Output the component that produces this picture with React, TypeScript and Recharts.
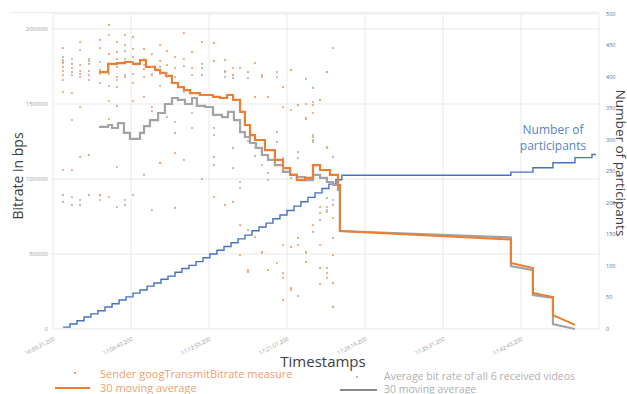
import React from 'react'
import { ComposedChart, Line, Scatter, XAxis, YAxis, CartesianGrid } from 'recharts'

// x values are seconds after 16:59:31.200
const TIME_TICKS = [0, 432, 864, 1296, 1728, 2160, 2592, 3024]
const TIME_LABELS = ['16:59:31.200', '17:06:43.200', '17:13:55.200', '17:21:07.200', '17:28:19.200', '17:35:31.200', '17:42:43.200', '']
const BITRATE_TICKS = [0, 500000, 1000000, 1500000, 2000000]
const PARTICIPANT_TICKS = [0, 50, 100, 150, 200, 250, 300, 350, 400, 450, 500]

type Pair = [number, number]
type Column = [number, number[]]

// [seconds, participants]
const participantSteps: Pair[] = [
  [55, 3], [94, 8], [133, 13], [172, 19], [210, 24], [249, 29], [288, 35], [327, 40],
  [366, 46], [404, 51], [443, 57], [482, 62], [521, 68], [559, 73], [598, 79], [637, 84],
  [676, 90], [714, 96], [753, 101], [792, 107], [831, 113], [869, 119], [908, 125], [947, 131],
  [986, 137], [1025, 143], [1063, 149], [1102, 156], [1141, 162], [1180, 168], [1218, 175],
  [1257, 181], [1296, 188], [1335, 195], [1373, 202], [1412, 209], [1451, 216], [1490, 223],
  [1528, 230], [1567, 237], [1600, 244], [2536, 249], [2658, 256], [2769, 264], [2891, 272],
  [2985, 277], [3007, 277],
]

// [seconds, kbps] moving averages, stepped part
const senderAvgSteps: Pair[] = [
  [255, 1713], [305, 1767], [354, 1773], [399, 1780], [443, 1767], [482, 1793], [515, 1747],
  [565, 1727], [593, 1707], [626, 1687], [659, 1640], [692, 1613], [725, 1593], [759, 1573],
  [814, 1560], [886, 1547], [925, 1540], [964, 1560], [997, 1527], [1036, 1447], [1063, 1360],
  [1091, 1293], [1119, 1260], [1174, 1193], [1229, 1127], [1274, 1073], [1313, 1027],
  [1351, 993], [1396, 1007], [1440, 1093], [1479, 1060], [1534, 1027], [1578, 960], [1589, 927],
]
const senderAvgTail: Pair[] = [
  [1589, 927], [1589, 653], [2536, 597], [2536, 440], [2658, 407], [2658, 240],
  [2769, 213], [2769, 93], [2891, 27],
]
const receivedAvgSteps: Pair[] = [
  [255, 1347], [305, 1360], [327, 1340], [360, 1373], [393, 1307], [426, 1267], [482, 1307],
  [504, 1353], [537, 1393], [582, 1440], [620, 1500], [659, 1540], [692, 1527], [731, 1500],
  [770, 1540], [797, 1487], [842, 1480], [886, 1427], [936, 1413], [969, 1447], [1002, 1393],
  [1036, 1313], [1063, 1280], [1091, 1240], [1124, 1207], [1157, 1160], [1191, 1127],
  [1229, 1093], [1274, 1047], [1313, 1027], [1351, 1013], [1396, 993], [1440, 1027],
  [1479, 1007], [1517, 980], [1551, 960], [1578, 927], [1589, 927],
]
const receivedAvgTail: Pair[] = [
  [1589, 927], [1589, 653], [2536, 610], [2536, 420], [2658, 393], [2658, 227],
  [2769, 207], [2769, 33], [2891, 0],
]

// measurement columns: [seconds, kbps values]
const senderMeasures: Column[] = [
  [55, [1873, 1780, 1747, 1720, 1693, 1660, 1580]],
  [105, [1767, 1740, 1713, 1573, 1060]],
  [150, [1913, 1760, 1720, 1680, 1480, 1147]],
  [199, [1800, 1767, 1693, 1660, 1160]],
  [260, [1927, 1873, 1727, 1700, 893]],
  [310, [2027, 1960, 1833, 1700, 1520, 1400]],
  [354, [1913, 1847, 1747, 1680, 1613]],
  [399, [1960, 1893, 1800, 1680]],
  [443, [1947, 1867, 1813, 1640, 1520]],
  [504, [1867, 1800, 1733, 1680]],
  [548, [1833, 1747, 1693, 1480]],
  [593, [1893, 1787, 1700, 1107]],
  [631, [1853, 1760, 1680]],
  [676, [1813, 1740, 1173]],
  [725, [1973, 1800, 1127]],
  [770, [1847, 1740]],
  [825, [1913, 1767, 1000]],
  [892, [1907, 1787, 880]],
  [953, [1793, 1720, 827]],
  [997, [1740, 1693, 847]],
  [1036, [1740, 693, 493]],
  [1080, [1713, 660, 393, 380]],
  [1119, [1773, 1547, 613]],
  [1157, [1693, 507, 513]],
  [1191, [1547, 393]],
  [1240, [1713, 440]],
  [1274, [1613, 1480, 560, 373, 340, 193]],
  [1318, [1727, 1460, 547, 273, 260]],
  [1357, [1493, 607, 560, 220]],
  [1401, [1407, 1400, 507, 447]],
  [1440, [1607, 1493, 1440, 1280, 1260, 693]],
  [1479, [1527, 813, 773, 560, 407, 300]],
  [1517, [1713, 1207, 780, 407, 373, 340]],
  [1551, [740, 493, 307, 147]],
]
const receivedMeasures: Column[] = [
  [55, [1813, 1793, 1773, 1060, 893, 847]],
  [105, [1800, 1693, 1393, 880, 827]],
  [150, [1860, 1700, 860, 827]],
  [199, [1787, 1720, 1160, 893]],
  [260, [1780, 1640, 893, 860]],
  [310, [1747, 1620, 880]],
  [354, [1800, 1660, 1487, 1080, 813]],
  [399, [1853, 1693, 860, 827]],
  [443, [1780, 1700, 893]],
  [504, [1760, 1547, 1027]],
  [548, [1700, 1453, 793]],
  [593, [1747, 1620, 1107]],
  [631, [1707, 1413]],
  [676, [1680, 1380, 1307, 807]],
  [725, [1753, 1580]],
  [770, [1693, 1440, 1340]],
  [825, [1740, 1693]],
  [892, [1340, 1293, 1147, 1093]],
  [953, [1713, 1680]],
  [997, [1693, 1673, 1207, 1073]],
  [1036, [1353, 980, 940]],
  [1080, [1673, 1253]],
  [1119, [1207, 1153]],
  [1157, [1680, 1093]],
  [1191, [993, 1040]],
  [1240, [1680, 1313, 1247]],
  [1274, [1073, 1140]],
  [1318, [1007, 1053]],
  [1357, [1180, 1140, 1493]],
  [1401, [1667, 1500, 513]],
  [1440, [1293, 1247, 1513, 647]],
  [1479, [1527, 727]],
  [1517, [1713, 1213, 873, 813, 793]],
  [1551, [1873, 1147, 860, 827, 607, 147]],
]

const ORANGE = '#ed7d31'
const GRAY = '#a3a3a3'
const BLUE = '#4472c4'
const GRID = '#e8e8e8'
const FONT = '"Open Sans", sans-serif'

const pts = (pairs: Pair[], scale = 1000) => pairs.map(([t, v]) => ({ t, v: v * scale }))
const cols = (columns: Column[]) => columns.flatMap(([t, vs]) => vs.map(v => ({ t, v: v * 1000 })))

const dotShape = (fill: string) => (p: any) => <circle cx={p.cx} cy={p.cy} r={1.1} fill={fill} />

function TimeTick({ x, y, payload }: any) {
  const label = TIME_LABELS[TIME_TICKS.indexOf(payload.value)] || ''
  return (
    <text x={x + 2} y={y + 3} transform={`rotate(-28 ${x + 2} ${y + 3})`} textAnchor="end" fontSize={5.5} fill="#999" fontFamily={FONT}>
      {label}
    </text>
  )
}

const abs = (style: React.CSSProperties): React.CSSProperties => ({ position: 'absolute', fontFamily: FONT, whiteSpace: 'nowrap', lineHeight: 1, ...style })

export default function App() {
  return (
    <div style={{ position: 'absolute', left: 0, top: 0, width: 627, height: 394, overflow: 'hidden', background: '#fff' }}>
      <div style={{ position: 'absolute', left: 10, top: 12, width: 590, height: 1, background: '#ececec' }} />
      <ComposedChart width={627} height={394} margin={{ top: 14, right: 6, bottom: 25, left: 8 }}>
        <CartesianGrid stroke={GRID} strokeWidth={1} yAxisId="bps" />
        <XAxis dataKey="t" type="number" domain={[0, 3024]} ticks={TIME_TICKS} height={40} axisLine={false} tickLine={false} tick={<TimeTick />} interval={0} />
        <YAxis yAxisId="bps" type="number" domain={[0, 2100000]} ticks={BITRATE_TICKS} width={45} axisLine={false} tickLine={false} tickSize={3} tickMargin={2} tick={{ fontSize: 5.5, fill: '#999', fontFamily: FONT }} interval={0} />
        <YAxis yAxisId="ppl" orientation="right" type="number" domain={[0, 500]} ticks={PARTICIPANT_TICKS} width={22} axisLine={false} tickLine={false} tickSize={3} tickMargin={4} tick={{ fontSize: 5.5, fill: '#5a6c94', fontFamily: FONT }} interval={0} />
        <Scatter yAxisId="bps" data={cols(receivedMeasures)} dataKey="v" shape={dotShape('#b4b4b4')} isAnimationActive={false} />
        <Scatter yAxisId="bps" data={cols(senderMeasures)} dataKey="v" shape={dotShape('#f0a070')} isAnimationActive={false} />
        <Line yAxisId="ppl" data={pts(participantSteps, 1)} dataKey="v" type="stepAfter" stroke={BLUE} strokeWidth={1.4} dot={false} isAnimationActive={false} />
        <Line yAxisId="bps" data={pts(receivedAvgSteps)} dataKey="v" type="stepAfter" stroke={GRAY} strokeWidth={2.2} dot={false} isAnimationActive={false} />
        <Line yAxisId="bps" data={pts(receivedAvgTail)} dataKey="v" type="linear" stroke={GRAY} strokeWidth={2.2} dot={false} isAnimationActive={false} />
        <Line yAxisId="bps" data={pts(senderAvgSteps)} dataKey="v" type="stepAfter" stroke={ORANGE} strokeWidth={2.2} dot={false} isAnimationActive={false} />
        <Line yAxisId="bps" data={pts(senderAvgTail)} dataKey="v" type="linear" stroke={ORANGE} strokeWidth={2} dot={false} isAnimationActive={false} />
      </ComposedChart>

      <div style={abs({ left: 18, top: 176, fontSize: 14, color: '#404040', transform: 'translate(-50%, -50%) rotate(-90deg)' })}>Bitrate in bps</div>
      <div style={abs({ left: 620, top: 163, fontSize: 13.5, color: '#404040', transform: 'translate(-50%, -50%) rotate(90deg)' })}>Number of participants</div>
      <div style={abs({ left: 323, top: 361, fontSize: 15, color: '#404040', transform: 'translate(-50%, -50%)' })}>Timestamps</div>

      <div style={abs({ left: 553, top: 130, fontSize: 12, color: '#5b7fc4', transform: 'translate(-50%, -50%)' })}>Number of</div>
      <div style={abs({ left: 553, top: 146, fontSize: 12, color: '#5b7fc4', transform: 'translate(-50%, -50%)' })}>participants</div>

      <div style={{ position: 'absolute', left: 74, top: 372, width: 2, height: 2, borderRadius: 1, background: ORANGE }} />
      <div style={abs({ left: 100, top: 373, fontSize: 11, color: '#f0a070', transform: 'translateY(-50%)' })}>Sender googTransmitBitrate measure</div>
      <div style={{ position: 'absolute', left: 55, top: 387, width: 35, height: 2, background: ORANGE }} />
      <div style={abs({ left: 100, top: 387, fontSize: 11, color: '#f0a070', transform: 'translateY(-50%)' })}>30 moving average</div>

      <div style={{ position: 'absolute', left: 356, top: 376, width: 2, height: 2, borderRadius: 1, background: GRAY }} />
      <div style={abs({ left: 384, top: 376, fontSize: 10.5, color: '#b0b0b0', transform: 'translateY(-50%)' })}>Average bit rate of all 6 received videos</div>
      <div style={{ position: 'absolute', left: 340, top: 389, width: 37, height: 2, background: '#888' }} />
      <div style={abs({ left: 384, top: 389, fontSize: 10.5, color: '#b0b0b0', transform: 'translateY(-50%)' })}>30 moving average</div>
    </div>
  )
}
